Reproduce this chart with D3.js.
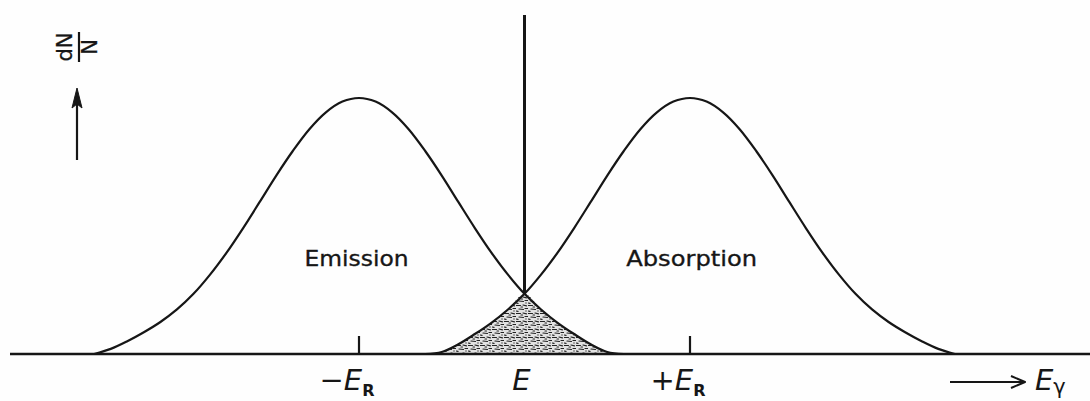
<!DOCTYPE html>
<html>
<head>
<meta charset="utf-8">
<script src="https://cdn.jsdelivr.net/npm/d3@7"></script>
<style>
  html, body { margin: 0; padding: 0; background: #fefefe; }
  svg { display: block; }
  text { fill: #161616; }
</style>
</head>
<body>
<div id="chart"></div>
<script>
// Energy axis in units of the recoil energy E_R (line centre E at 0)
const energyGrid = [
  -2.7, -2.6, -2.5, -2.4, -2.3, -2.2, -2.1, -2.0, -1.9, -1.8,
  -1.7, -1.6, -1.5, -1.4, -1.3, -1.2, -1.1, -1.0, -0.9, -0.8,
  -0.7, -0.6, -0.5, -0.4, -0.3, -0.2, -0.1,  0.0,  0.1,  0.2,
   0.3,  0.4,  0.5,  0.6,  0.7,  0.8,  0.9,  1.0,  1.1,  1.2,
   1.3,  1.4,  1.5,  1.6,  1.7,  1.8,  1.9,  2.0,  2.1,  2.2,
   2.3,  2.4,  2.5,  2.6,  2.7
];

// Emission line, centred at -E_R (relative intensity)
const emission = [
  0.000, 0.000, 0.020, 0.050, 0.085, 0.125, 0.174, 0.235, 0.310, 0.396,
  0.492, 0.594, 0.697, 0.793, 0.878, 0.944, 0.986, 1.000, 0.986, 0.944,
  0.878, 0.793, 0.697, 0.594, 0.492, 0.396, 0.310, 0.235, 0.174, 0.122,
  0.078, 0.038, 0.008, 0.000, 0.000, 0.000, 0.000, 0.000, 0.000, 0.000,
  0.000, 0.000, 0.000, 0.000, 0.000, 0.000, 0.000, 0.000, 0.000, 0.000,
  0.000, 0.000, 0.000, 0.000, 0.000
];

// Absorption line, centred at +E_R (relative intensity)
const absorption = [
  0.000, 0.000, 0.000, 0.000, 0.000, 0.000, 0.000, 0.000, 0.000, 0.000,
  0.000, 0.000, 0.000, 0.000, 0.000, 0.000, 0.000, 0.000, 0.000, 0.000,
  0.000, 0.000, 0.008, 0.038, 0.078, 0.122, 0.174, 0.235, 0.310, 0.396,
  0.492, 0.594, 0.697, 0.793, 0.878, 0.944, 0.986, 1.000, 0.986, 0.944,
  0.878, 0.793, 0.697, 0.594, 0.492, 0.396, 0.310, 0.235, 0.174, 0.125,
  0.085, 0.050, 0.020, 0.000, 0.000
];

// Energy marks on the axis
const markEnergies = [-1, 0, 1];
const markLabels   = ["\u2212E", "E", "+E"];
const markSubs     = ["R", "", "R"];
const markTicks    = [true, false, true];

// Curve names and the energy at which each name sits
const curveNames   = ["Emission", "Absorption"];
const curveNameAt  = [-1.015, 1.01];
const curveNameLen = [104, 131];

const W = 1090, H = 401;
const ink = "#161616";

const svg = d3.select("#chart").append("svg")
  .attr("width", W).attr("height", H);

const x = d3.scaleLinear().domain([-1, 1]).range([359, 690]);
const y = d3.scaleLinear().domain([0, 1]).range([354, 98]);

// Stipple for the overlap region
const defs = svg.append("defs");
const pat = defs.append("pattern")
  .attr("id", "stipple").attr("patternUnits", "userSpaceOnUse")
  .attr("width", 12).attr("height", 8);
pat.append("rect").attr("width", 12).attr("height", 8).attr("fill", "#e2e2e2");
[[0.5, 1.5, 4.5, 1.5], [7, 1, 10.5, 1.8], [3, 5, 7.5, 5.5], [9, 4.5, 11.5, 4.5], [0, 7, 2, 7.3], [5, 3, 6.5, 3]].forEach(s => {
  pat.append("line").attr("x1", s[0]).attr("y1", s[1]).attr("x2", s[2]).attr("y2", s[3])
    .attr("stroke", "#222").attr("stroke-width", 1.2).attr("stroke-linecap", "round");
});
pat.append("circle").attr("cx", 10).attr("cy", 7).attr("r", 0.7).attr("fill", "#333");

const pts = (vals) => energyGrid.map((e, i) => [e, vals[i]]);

// Overlap of the two lines: the smaller of the two at each energy
const overlap = energyGrid.map((e, i) => [e, Math.min(emission[i], absorption[i])]);

svg.append("path")
  .datum(overlap)
  .attr("d", d3.area().x(d => x(d[0])).y0(y(0)).y1(d => y(d[1])).curve(d3.curveCatmullRom))
  .attr("fill", "url(#stipple)");

// Energy axis (baseline)
svg.append("line")
  .attr("x1", 10).attr("x2", W).attr("y1", y(0)).attr("y2", y(0))
  .attr("stroke", ink).attr("stroke-width", 2.6);

// Spectral lines
const line = d3.line().x(d => x(d[0])).y(d => y(d[1])).curve(d3.curveCatmullRom);
[emission, absorption].forEach(vals => {
  const p = pts(vals);
  // keep only the drawn part of each profile (plus its end points)
  const keep = p.filter((d, i) => d[1] > 0 || (p[i - 1] && p[i - 1][1] > 0) || (p[i + 1] && p[i + 1][1] > 0));
  svg.append("path").datum(keep)
    .attr("d", line)
    .attr("fill", "none").attr("stroke", ink).attr("stroke-width", 2.2)
    .attr("stroke-linejoin", "round");
});

// Line centre E: vertical line down to the crossing of the two profiles
const iCentre = energyGrid.indexOf(0);
svg.append("line")
  .attr("x1", x(0)).attr("x2", x(0))
  .attr("y1", 15).attr("y2", y(Math.min(emission[iCentre], absorption[iCentre])))
  .attr("stroke", ink).attr("stroke-width", 3);

// Tick marks at -E_R and +E_R
markEnergies.forEach((e, i) => {
  if (!markTicks[i]) return;
  svg.append("line")
    .attr("x1", x(e)).attr("x2", x(e))
    .attr("y1", y(0)).attr("y2", y(0) - 18)
    .attr("stroke", ink).attr("stroke-width", 2.2);
});

// Tick labels
markEnergies.forEach((e, i) => {
  const t = svg.append("text")
    .attr("x", x(e) + (markSubs[i] ? -12 : -3))
    .attr("y", 390)
    .attr("text-anchor", "middle")
    .attr("font-family", "DejaVu Sans, sans-serif")
    .attr("font-style", "italic")
    .attr("font-size", 29);
  t.append("tspan").text(markLabels[i]);
  if (markSubs[i]) {
    t.append("tspan").text(markSubs[i])
      .attr("dy", 6).attr("font-size", 16).attr("font-weight", "bold").attr("font-style", "normal");
  }
});

// Curve names
curveNames.forEach((n, i) => {
  svg.append("text")
    .attr("x", x(curveNameAt[i]))
    .attr("y", 266)
    .attr("text-anchor", "middle")
    .attr("font-family", "DejaVu Sans, sans-serif")
    .attr("font-size", 22)
    .attr("textLength", curveNameLen[i])
    .attr("lengthAdjust", "spacingAndGlyphs")
    .attr("stroke", "#161616").attr("stroke-width", 0.35)
    .text(n);
});

// Energy direction arrow and label E_gamma
svg.append("line")
  .attr("x1", 950).attr("x2", 1024).attr("y1", 382).attr("y2", 382)
  .attr("stroke", ink).attr("stroke-width", 2);
svg.append("path")
  .attr("d", "M1011,376 L1025,382 L1011,388")
  .attr("fill", "none").attr("stroke", ink).attr("stroke-width", 2)
  .attr("stroke-linejoin", "round");
const eg = svg.append("text")
  .attr("x", 1035).attr("y", 390)
  .attr("font-family", "DejaVu Sans, sans-serif")
  .attr("font-style", "italic").attr("font-size", 29);
eg.append("tspan").text("E");
eg.append("tspan").text("\u03b3").attr("dy", 4).attr("font-size", 21).attr("font-style", "normal");

// Intensity direction arrow
svg.append("line")
  .attr("x1", 77).attr("x2", 77).attr("y1", 160).attr("y2", 100)
  .attr("stroke", ink).attr("stroke-width", 2.2);
svg.append("path")
  .attr("d", "M77,88 L82,108 L77,104 L72,108 Z")
  .attr("fill", ink).attr("stroke", ink).attr("stroke-width", 1);

// Ordinate label, written sideways as a fraction
const yl = svg.append("g").attr("transform", "translate(79,47) rotate(-90)");
yl.append("text").attr("x", 0).attr("y", -7).attr("text-anchor", "middle")
  .attr("font-family", "DejaVu Sans, sans-serif").attr("font-size", 21)
  .attr("stroke", "#161616").attr("stroke-width", 0.3).text("dN");
yl.append("line").attr("x1", -15).attr("x2", 15).attr("y1", 0).attr("y2", 0)
  .attr("stroke", ink).attr("stroke-width", 2.2);
yl.append("text").attr("x", 0).attr("y", 18).attr("text-anchor", "middle")
  .attr("font-family", "DejaVu Sans, sans-serif").attr("font-size", 21)
  .attr("stroke", "#161616").attr("stroke-width", 0.3).text("N");
</script>
</body>
</html>
